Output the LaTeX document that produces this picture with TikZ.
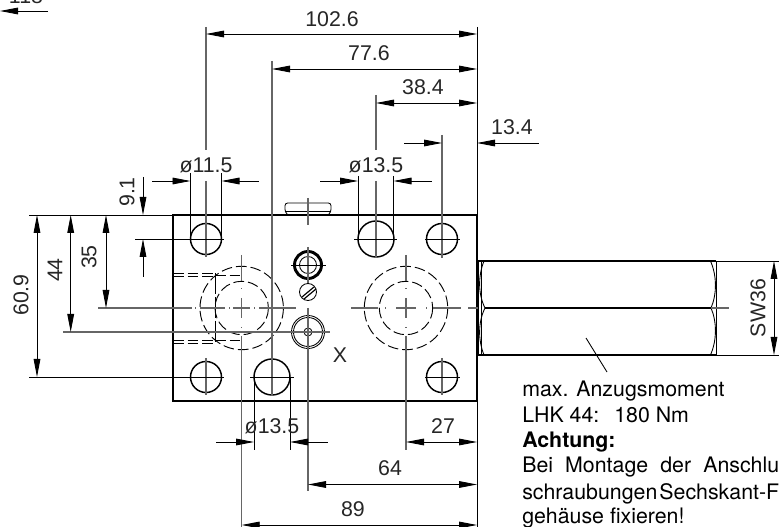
\documentclass[tikz,border=0pt]{standalone}
\usepackage{fontspec}
\setmainfont{TeX Gyre Heros}
\newfontfamily\dimfont{Liberation Sans}
\usetikzlibrary{arrows.meta}
\tikzset{
	body/.style={line width=1.1pt},
	thinline/.style={line width=0.65pt},
	axisline/.style={line width=0.8pt,draw=black!60},
	hidden/.style={line width=0.7pt,dash pattern=on 8pt off 3pt},
	dimline/.style={line width=0.65pt,>={Triangle[length=13.5pt,width=5pt]}},
	dimtext/.style={font=\dimfont\fontsize{16}{18}\selectfont,text=black!85,inner sep=0pt},
	notetext/.style={font=\fontsize{16}{19}\selectfont,anchor=base west,inner sep=0pt}
}
\begin{document}
\begin{tikzpicture}[x=0.75pt,y=-0.75pt]
	\useasboundingbox (0,0) rectangle (779,527);
	% housing and plug
	\draw[body] (173,215) rectangle (477,401);
	\draw[thinline,rounded corners=2pt] (288,215) -- (285,212) -- (285,203) -- (331,203) -- (331,212) -- (328,215);
	\draw[thinline] (285,211) -- (331,211);
	% mounting holes
	\draw[body] (206,239) circle (15.5);
	\draw[body] (206,377) circle (15.5);
	\draw[body] (272,377) circle (18);
	\draw[body] (376,239) circle (18);
	\draw[body] (442,239) circle (15.5);
	\draw[body] (442,377) circle (15.5);
	% ports
	\draw[hidden] (241.7,308) circle (41.7);
	\draw[hidden] (241.7,308) circle (26.7);
	\draw[hidden] (406,308) circle (41.7);
	\draw[hidden] (406,308) circle (26.7);
	\draw[hidden] (173,273.3) -- (215,273.3);
	\draw[hidden] (173,276.3) -- (215,276.3);
	\draw[hidden] (173,340.5) -- (215,340.5);
	\draw[hidden] (173,343.5) -- (215,343.5);
	\draw[hidden,dash pattern=on 16pt off 2pt] (215,273) -- (215,343);
	\draw[hidden] (215,275) -- (241.7,275);
	\draw[hidden] (215,340.5) -- (241.7,340.5);
	% small parts
	\draw[line width=2.2pt] (308,265) circle (13.5);
	\draw[thinline] (308,265) circle (8.5);
	\draw[thinline] (308,292) circle (8.5);
	\draw[line width=0.9pt] (302,297) -- (314,287);
	\draw[line width=0.9pt] (304,299) -- (316,289);
	\draw[thinline] (308,332) circle (16.5);
	\draw[thinline] (308,332) circle (14.5);
	\draw[thinline] (308,332) circle (4);
	% nut
	\draw[body] (478,261) -- (716,261);
	\draw[body] (478,355) -- (716,355);
	\draw[body] (485,308) -- (711,308);
	\draw[thinline] (478,261) -- (478,355);
	\draw[thinline] (481,261) -- (481,355);
	\draw[thinline] (716,261) -- (716,355);
	\draw[thinline] (484,261) .. controls (478,276) and (478,294) .. (485,308) .. controls (478,322) and (478,340) .. (484,355);
	\draw[thinline] (710.5,261) .. controls (717,276) and (717,294) .. (711,308) .. controls (717,322) and (717,340) .. (710.5,355);
	\draw[axisline] (468,308) -- (478,308);
	\draw[axisline] (711,308) -- (729,308);
	\draw[thinline] (586,338) -- (607,372);
	% axes of the holes
	\draw[axisline] (206,181) -- (206,257);
	\draw[axisline] (206,358) -- (206,395);
	\draw[axisline] (272,61) -- (272,396);
	\draw[axisline] (376,95) -- (376,150);
	\draw[axisline] (376,181) -- (376,258);
	\draw[axisline] (442,135) -- (442,258);
	\draw[axisline] (442,358) -- (442,395);
	\draw[axisline] (206,27) -- (206,150);
	\draw[thinline] (250,377) -- (294,377);
	\draw[thinline] (354,239) -- (397,239);
	\draw[thinline] (425,239) -- (460,239);
	\draw[thinline] (425,377) -- (460,377);
	\draw[axisline] (308,198) -- (308,225);
	\draw[axisline] (308,247) -- (308,283);
	\draw[thinline] (291,265) -- (326,265);
	\draw[axisline] (308,308) -- (308,491);
	% axes of the ports
	\draw[axisline] (98,308) -- (192,308);
	\draw[axisline] (195,308) -- (196,308);
	\draw[axisline] (200,308) -- (225,308);
	\draw[axisline] (229,308) -- (230,308);
	\draw[axisline] (233,308) -- (250,308);
	\draw[axisline] (254,308) -- (255,308);
	\draw[axisline] (259,308) -- (296,308);
	\draw[axisline] (241.7,255) -- (241.7,281);
	\draw[axisline] (241.7,288) -- (241.7,289);
	\draw[axisline] (241.7,298) -- (241.7,318);
	\draw[axisline] (241.7,327) -- (241.7,328);
	\draw[axisline] (241.7,336) -- (241.7,527);
	\draw[axisline] (351,308) -- (378,308);
	\draw[axisline] (385,308) -- (386,308);
	\draw[axisline] (396,308) -- (416,308);
	\draw[axisline] (426,308) -- (427,308);
	\draw[axisline] (433,308) -- (461,308);
	\draw[axisline] (406,255) -- (406,281);
	\draw[axisline] (406,288) -- (406,289);
	\draw[axisline] (406,298) -- (406,318);
	\draw[axisline] (406,327) -- (406,328);
	\draw[axisline] (406,336) -- (406,450);
	% extension lines
	\draw[thinline] (29,215) -- (173,215);
	\draw[thinline] (29,377) -- (224,377);
	\draw[axisline] (63,332) -- (330,332);
	\draw[thinline] (135,239) -- (224,239);
	\draw[thinline] (477,27) -- (477,215);
	\draw[thinline] (477,401) -- (477,527);
	\draw[thinline] (190.5,173) -- (190.5,239);
	\draw[thinline] (221.5,173) -- (221.5,239);
	\draw[thinline] (358,176) -- (358,239);
	\draw[thinline] (393.5,176) -- (393.5,239);
	\draw[thinline] (254,377) -- (254,450);
	\draw[thinline] (290,377) -- (290,450);
	\draw[thinline] (716,261) -- (779,261);
	\draw[thinline] (716,355) -- (779,355);
	% dimensions
	\draw[dimline,<->] (206,34) -- (477,34);
	\draw[dimline,<->] (272,69) -- (477,69);
	\draw[dimline,<->] (376,103) -- (477,103);
	\draw[dimline,->] (404,143) -- (442,143);
	\draw[dimline,<-] (477,143) -- (539,143);
	\draw[dimline,->] (48,11) -- (0,11);
	\draw[dimline,->] (152,181) -- (190.5,181);
	\draw[dimline,<-] (221.5,181) -- (259,181);
	\draw[dimline,->] (320,181) -- (358,181);
	\draw[dimline,<-] (393.5,181) -- (432,181);
	\draw[dimline,<->] (37,215) -- (37,377);
	\draw[dimline,<->] (70.7,215) -- (70.7,332);
	\draw[dimline,<->] (106,215) -- (106,308);
	\draw[dimline,->] (143,177) -- (143,215);
	\draw[dimline,<-] (143,239) -- (143,277);
	\draw[dimline,->] (216,442) -- (254,442);
	\draw[dimline,<-] (290,442) -- (328,442);
	\draw[dimline,<->] (406,442) -- (477,442);
	\draw[dimline,<->] (308,484.5) -- (477,484.5);
	\draw[dimline,<->] (241.7,525) -- (477,525);
	\draw[dimline,<->] (774,261) -- (774,355);
	% labels
	\node[dimtext] (widthAll) at (332,19) {102.6};
	\node[dimtext] (widthPort) at (369,53) {77.6};
	\node[dimtext] (widthHole) at (423,87) {38.4};
	\node[dimtext] (widthEdge) at (512,127) {13.4};
	\node[dimtext] (offCut) at (26,-4) {118};
	\node[dimtext] (holeA) at (206,165) {ø11.5};
	\node[dimtext] (holeB) at (376,165) {ø13.5};
	\node[dimtext] (holeC) at (272,426) {ø13.5};
	\node[dimtext,rotate=90] (heightAll) at (21,295) {60.9};
	\node[dimtext,rotate=90] (heightMid) at (55,270) {44};
	\node[dimtext,rotate=90] (heightPort) at (89,257) {35};
	\node[dimtext,rotate=90] (heightTop) at (127,192) {9.1};
	\node[dimtext] (lenRight) at (443,426) {27};
	\node[dimtext] (lenMid) at (390,468) {64};
	\node[dimtext] (lenAll) at (353,509) {89};
	\node[dimtext,rotate=90] (nutWidth) at (758,308) {SW36};
	\node[dimtext] (portX) at (340,355) {X};
	\node[notetext] (noteA) at (522,397) {max. Anzugsmoment};
	\node[notetext] (noteB) at (522,422.7) {LHK 44:\hspace{0.7em}180 Nm};
	\node[notetext] (noteC) at (522,447.5) {\bfseries Achtung:};
	\node[notetext] (noteD) at (522,473) {\hbox to 192.7pt{Bei\hfill Montage\hfill der\hfill Anschlu}};
	\node[notetext] (noteE) at (522,499) {\hbox to 192.7pt{schraubungen\hfill Sechskant-F}};
	\node[notetext] (noteF) at (522,523) {gehäuse fixieren!};
\end{tikzpicture}
\end{document}
